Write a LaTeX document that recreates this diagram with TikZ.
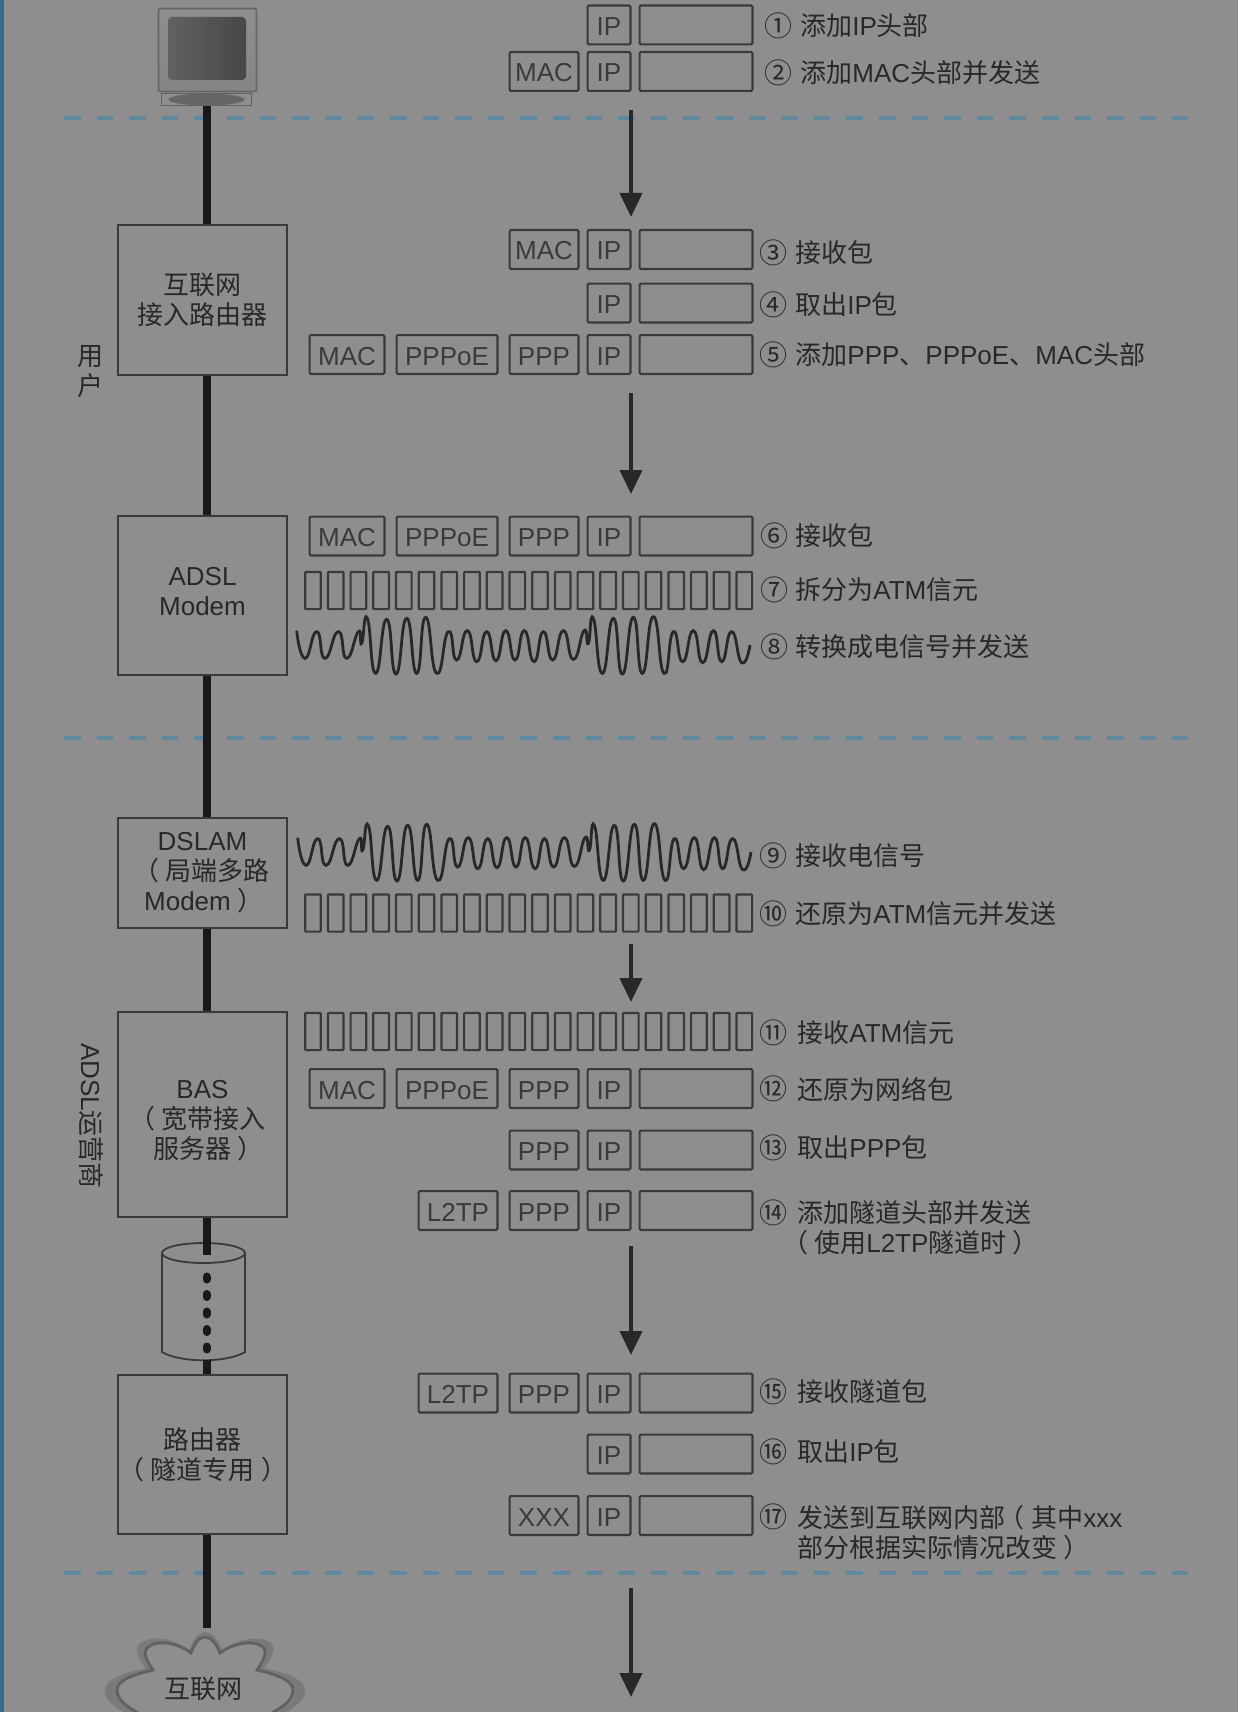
\documentclass[tikz,border=0pt]{standalone}
\usepackage{fontspec}
\setmainfont{Liberation Sans}
\newfontfamily\cjk{Noto Sans CJK SC}
\newcommand{\zh}[1]{{\cjk #1}}
\newcommand{\lpar}{\kern-.58em\zh{（}\kern.23em}
\newcommand{\mpar}{\kern-.27em\zh{（}\kern.27em}
\newcommand{\rpar}{\kern.25em\zh{）}\kern-.25em}
\usetikzlibrary{
  arrows.meta,
  positioning
}
\definecolor{bggray}{RGB}{142,142,142}
\definecolor{inkgray}{RGB}{40,40,40}
\definecolor{boxgray}{RGB}{58,58,58}
\definecolor{zoneblue}{RGB}{96,136,158}
\definecolor{edgeblue}{RGB}{58,106,140}
\definecolor{halogray}{RGB}{122,122,122}
\newcommand{\cloudpath}{(153,1720) .. controls (130,1710) and (117,1701) .. (117,1690)
  .. controls (117,1680) and (135,1674) .. (153,1670)
  .. controls (146,1660) and (143,1652) .. (147,1648)
  .. controls (158,1638) and (180,1644) .. (191,1653)
  .. controls (194,1645) and (198,1637) .. (205,1637)
  .. controls (212,1637) and (217,1645) .. (220,1653)
  .. controls (232,1644) and (254,1638) .. (264,1648)
  .. controls (267,1652) and (264,1660) .. (257,1670)
  .. controls (275,1674) and (293,1680) .. (293,1690)
  .. controls (293,1701) and (280,1710) .. (257,1720) -- cycle}
\tikzset{
  basefont/.style={font=\fontsize{13}{15}\selectfont, text=inkgray},
  devbox/.style={draw=boxgray, line width=1pt, minimum width=84.5pt, align=center, inner sep=0pt, basefont},
  devtext/.style={align=center, inner sep=0pt, basefont},
  pktbox/.style={draw=boxgray, line width=1.1pt, rounded corners=0.6pt, minimum height=19.4pt, inner sep=0pt, text height=10.5pt, text depth=0pt, basefont, text=boxgray},
  pktdata/.style={pktbox, minimum width=56.4pt},
  pktip/.style={pktbox, minimum width=21.4pt},
  pktshort/.style={pktbox, minimum width=34.4pt},
  pktmac/.style={pktbox, minimum width=37.4pt},
  pktpppoe/.style={pktbox, minimum width=50.4pt},
  pktl2tp/.style={pktbox, minimum width=39.4pt},
  atmcell/.style={draw=boxgray, line width=1.1pt, rounded corners=0.4pt, minimum width=7.8pt, minimum height=18.6pt, inner sep=0pt},
  stepnum/.style={inner sep=0pt, font=\cjk\fontsize{14}{15}\selectfont, text=inkgray},
  steptext/.style={anchor=west, align=left, inner sep=0pt, basefont},
  linkline/.style={line width=4pt, black!90},
  flowarr/.style={-{Triangle[length=12pt,width=11pt]}, line width=2pt, inkgray},
  zoneline/.style={zoneblue, line width=1.6pt, dash pattern=on 8.3pt off 8pt},
  wavepen/.style={inkgray, line width=1.4pt, x=0.16667pt, y=-0.16667pt},
  sigwave/.pic={
    \draw[wavepen] plot[smooth, tension=1] coordinates {
      (50,392) (75,475) (110,395) (135,475) (175,395) (200,475) (235,395) (245,430)
      (262,355) (287,520) (320,358) (348,522) (380,355) (410,520) (437,352) (470,520)
      (505,395) (530,480) (562,392) (590,485) (620,395) (648,482) (677,392) (705,480)
      (733,392) (762,485) (790,395) (818,480) (850,392) (880,478) (912,392) (925,430)
      (940,355) (967,520) (1000,355) (1027,522) (1060,352) (1087,520) (1120,350) (1152,520)
      (1180,395) (1208,485) (1240,392) (1268,488) (1300,392) (1325,485) (1355,395) (1385,488) (1410,435)};
  }
}
\begin{document}
\begin{tikzpicture}[x=0.5pt, y=-0.5pt]
  \useasboundingbox (0,0) rectangle (1238,1712);
  \fill[bggray] (0,0) rectangle (1238,1712);
  \fill[edgeblue] (0,0) rectangle (4,1712);

  % zones
  \draw[zoneline] (64,118) -- (1188,118);
  \draw[zoneline] (64,738) -- (1188,738);
  \draw[zoneline] (64,1573) -- (1188,1573);
  \node[devtext] (zuser) at (90,372) {\zh{用}\\\zh{户}};
  \node[devtext, rotate=-90] (zisp) at (91,1116) {ADSL\zh{运营商}};

  % terminal
  \node[draw=black!60, line width=0.8pt, rounded corners=1pt, minimum width=49pt, minimum height=41.5pt, inner sep=0pt,
        top color=bggray, bottom color=black!48] (pcbody) at (207.5,50) {};
  \node[rounded corners=2pt, minimum width=39pt, minimum height=31.5pt, inner sep=0pt,
        left color=black!62, right color=black!72] (pcscreen) at (207,48.5) {};
  \node[draw=black!62, line width=0.9pt, minimum width=45pt, minimum height=6pt, inner sep=0pt] (pcbase) at (206.5,99.5) {};
  \fill[black!60] (pcbase.center) ellipse (38 and 6);

  % devices
  \node[devbox, minimum height=75pt] (isp) at (202.5,300) {\zh{互联网}\\\zh{接入路由器}};
  \node[devbox, minimum height=79.5pt, label={[devtext, yshift=2pt]center:{ADSL\\Modem}}] (adsl) at (202.5,595.5) {};
  \node[devbox, minimum height=55pt] (dslam) at (202.5,873) {DSLAM\\\hspace*{7pt}\lpar\zh{局端多路}\\Modem\rpar\hspace*{2pt}};
  \node[devbox, minimum height=102.5pt, label={[devtext, yshift=-3.2pt]center:{BAS\\\hspace*{3pt}\lpar\zh{宽带接入}\\\hspace*{3pt}\zh{服务器}\rpar}}] (bas) at (202.5,1114.5) {};
  \draw[draw=boxgray, line width=0.9pt] (203.5,1253) ellipse (41.5 and 10);
  \draw[draw=boxgray, line width=0.9pt] (162,1253) -- (162,1352) .. controls (180,1363) and (227,1363) .. (245,1352) -- (245,1253);
  \coordinate (tunbot) at (206,1360);
  \node[devbox, minimum height=79.5pt] (tunrouter) at (202.5,1454.5) {\zh{路由器}\\\hspace*{5pt}\lpar\zh{隧道专用}\rpar};
  \begin{scope}[shift={(205,1690)}, xscale=1.14, yscale=1.09, shift={(-205,-1690)}]
    \fill[halogray] \cloudpath;
  \end{scope}
  \draw[draw=black!62, line width=1.4pt, fill=bggray] \cloudpath;
  \node[devtext] (inet) at (203,1689) {\zh{互联网}};

  % links
  \coordinate (tuntop) at (pcbase.south |- 0,1255);
  \coordinate (netin) at (pcbase.south |- 0,1628);
  \draw[linkline] (pcbase.south) -- (pcbase.south |- isp.north);
  \draw[linkline] (pcbase.south |- isp.south) -- (pcbase.south |- adsl.north);
  \draw[linkline] (pcbase.south |- adsl.south) -- (pcbase.south |- dslam.north);
  \draw[linkline] (pcbase.south |- dslam.south) -- (pcbase.south |- bas.north);
  \draw[linkline] (pcbase.south |- bas.south) -- (tuntop);
  \draw[linkline, line cap=round, dash pattern=on 1.5pt off 7.25pt] (pcbase.south |- 0,1276.5) -- (pcbase.south |- 0,1352);
  \draw[linkline] (pcbase.south |- tunbot) -- (pcbase.south |- tunrouter.north);
  \draw[linkline] (pcbase.south |- tunrouter.south) -- (netin);

  % packets
  \foreach \r/\y in {1/25,2/71.5,3/249.5,4/303,5/354.5,6/536,12/1088.5,13/1150,14/1210.5,15/1393,16/1454,17/1515.5} {
    \node[pktdata] (d\r) at (696,\y) {};
    \node[pktip, left=3.5pt of d\r] (ip\r) {IP};
  }
  \foreach \r in {2,3} \node[pktshort, left=3.5pt of ip\r] (mac\r) {MAC};
  \foreach \r in {5,6,12,13,14,15} \node[pktshort, left=3.5pt of ip\r] (ppp\r) {PPP};
  \foreach \r in {5,6,12} {
    \node[pktpppoe, left=5pt of ppp\r] (poe\r) {PPPoE};
    \node[pktmac, left=5pt of poe\r] (mac\r) {MAC};
  }
  \foreach \r in {14,15} \node[pktl2tp, left=5pt of ppp\r] (l2tp\r) {L2TP};
  \node[pktshort, left=3.5pt of ip17] (xxx17) {XXX};

  % cells and signal
  \foreach \r/\y in {7/590.5,10/913,11/1031.5} {
    \foreach \c in {0,...,19} \node[atmcell] (c\r-\c) at ({313+\c*22.7},\y) {};
  }
  \pic at (280,500) {sigwave};
  \pic at (281,707) {sigwave};

  % flow
  \foreach \n/\ya/\yb in {1/110/217,2/393/494,3/944/1002,4/1246/1355,5/1588/1697} {
    \coordinate (fa\n) at (631,\ya);
    \coordinate (fb\n) at (631,\yb);
    \draw[flowarr] (fa\n) -- (fb\n);
  }

  % steps
  \node[stepnum] (n1) at (778,26) {①};   \node[steptext] (t1) at (800,26) {\zh{添加}IP\zh{头部}};
  \node[stepnum] (n2) at (778,73) {②};   \node[steptext] (t2) at (800,73) {\zh{添加}MAC\zh{头部并发送}};
  \node[stepnum] (n3) at (773,253) {③};  \node[steptext] (t3) at (795,253) {\zh{接收包}};
  \node[stepnum] (n4) at (773,305) {④};  \node[steptext] (t4) at (795,305) {\zh{取出}IP\zh{包}};
  \node[stepnum] (n5) at (773,355) {⑤};  \node[steptext] (t5) at (795,355) {\zh{添加}PPP\zh{、}PPPoE\zh{、}MAC\zh{头部}};
  \node[stepnum] (n6) at (774,536) {⑥};  \node[steptext] (t6) at (795,536) {\zh{接收包}};
  \node[stepnum] (n7) at (774,590) {⑦};  \node[steptext] (t7) at (795,590) {\zh{拆分为}ATM\zh{信元}};
  \node[stepnum] (n8) at (774,647) {⑧};  \node[steptext] (t8) at (795,647) {\zh{转换成电信号并发送}};
  \node[stepnum] (n9) at (773,856) {⑨};  \node[steptext] (t9) at (795,856) {\zh{接收电信号}};
  \node[stepnum] (n10) at (773,914) {⑩}; \node[steptext] (t10) at (795,914) {\zh{还原为}ATM\zh{信元并发送}};
  \node[stepnum] (n11) at (773,1033) {⑪}; \node[steptext] (t11) at (797,1033) {\zh{接收}ATM\zh{信元}};
  \node[stepnum] (n12) at (773,1089) {⑫}; \node[steptext] (t12) at (797,1089) {\zh{还原为网络包}};
  \node[stepnum] (n13) at (773,1148) {⑬}; \node[steptext] (t13) at (797,1148) {\zh{取出}PPP\zh{包}};
  \node[stepnum] (n14) at (773,1213) {⑭}; \node[steptext] (t14) at (797,1227.5) {\zh{添加隧道头部并发送}\\\lpar\zh{使用}L2TP\zh{隧道时}\rpar};
  \node[stepnum] (n15) at (773,1392) {⑮}; \node[steptext] (t15) at (797,1392) {\zh{接收隧道包}};
  \node[stepnum] (n16) at (773,1452) {⑯}; \node[steptext] (t16) at (797,1452) {\zh{取出}IP\zh{包}};
  \node[stepnum] (n17) at (773,1517) {⑰}; \node[steptext] (t17) at (797,1532.5) {\zh{发送到互联网内部}\mpar\zh{其中}xxx\\\zh{部分根据实际情况改变}\rpar};
\end{tikzpicture}
\end{document}
